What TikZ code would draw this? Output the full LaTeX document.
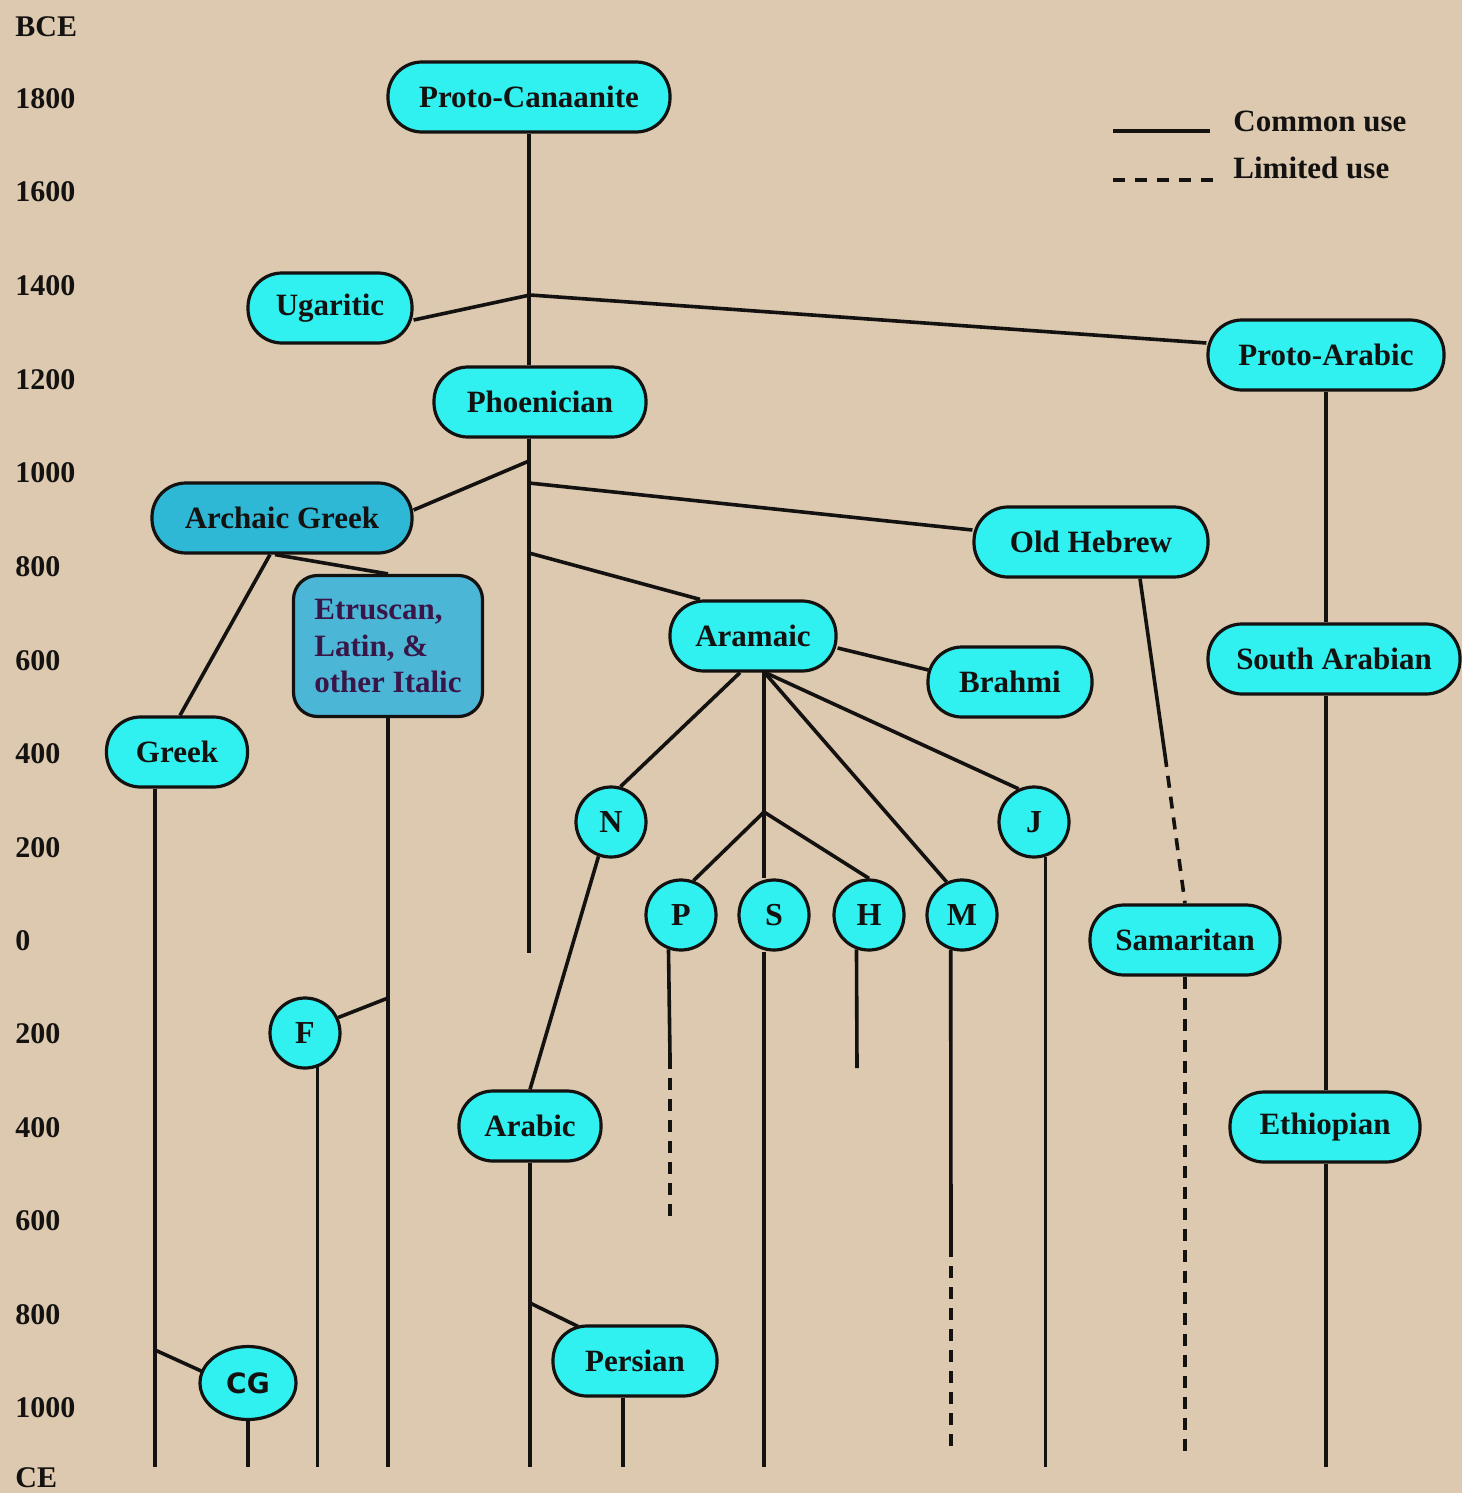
\documentclass[tikz,border=0pt]{standalone}
\usepackage{fontspec}
\setmainfont{Liberation Serif}
\newfontfamily\cgfont{DejaVu Sans}
\usetikzlibrary{calc,shapes.geometric}

\definecolor{paper}{RGB}{220,201,175}
\definecolor{cyanfill}{RGB}{48,240,240}
\definecolor{agfill}{RGB}{46,184,214}
\definecolor{etfill}{RGB}{76,182,214}
\definecolor{etink}{RGB}{58,22,72}
\definecolor{ink}{RGB}{20,18,16}

\tikzset{
  ln/.style={line width=1.8pt, draw=ink},
  limited/.style={ln, dash pattern=on 6pt off 4.5pt},
  script/.style={draw=ink, line width=1.6pt, fill=cyanfill, rounded corners=17pt,
    minimum height=35pt, inner sep=0pt, text=ink,
    font=\fontsize{15.5}{18.3}\selectfont\bfseries},
  letter/.style={circle, draw=ink, line width=1.6pt, fill=cyanfill,
    minimum size=35pt, inner sep=0pt, text=ink,
    font=\fontsize{16}{18}\selectfont\bfseries},
  year/.style={anchor=west, inner sep=0pt, text=ink,
    font=\fontsize{15}{17}\selectfont\bfseries},
  legendtext/.style={anchor=west, inner sep=0pt, text=ink,
    font=\fontsize{15.5}{17}\selectfont\bfseries},
}

\begin{document}
\begin{tikzpicture}[x=0.5pt, y=-0.5pt]
  % page
  \fill[paper] (0,0) rectangle (1462,1493);
  \useasboundingbox (0,0) rectangle (1462,1493);

  % time axis
  \node[year] (tBCE)  at (15,27)   {BCE};
  \node[year] (t1800) at (15,99)   {1800};
  \node[year] (t1600) at (15,192)  {1600};
  \node[year] (t1400) at (15,286)  {1400};
  \node[year] (t1200) at (15,380)  {1200};
  \node[year] (t1000) at (15,473)  {1000};
  \node[year] (t800)  at (15,567)  {800};
  \node[year] (t600)  at (15,661)  {600};
  \node[year] (t400)  at (15,754)  {400};
  \node[year] (t200)  at (15,848)  {200};
  \node[year] (t0)    at (15,941)  {0};
  \node[year] (c200)  at (15,1034) {200};
  \node[year] (c400)  at (15,1128) {400};
  \node[year] (c600)  at (15,1221) {600};
  \node[year] (c800)  at (15,1315) {800};
  \node[year] (c1000) at (15,1408) {1000};
  \node[year] (tCE)   at (15,1478) {CE};

  % legend
  \coordinate (lga) at (1113,131);
  \coordinate (lgb) at (1210,131);
  \coordinate (lgc) at (1113,180);
  \coordinate (lgd) at (1222,180);
  \draw[ln] (lga) -- (lgb);
  \draw[ln, dash pattern=on 6pt off 5pt] (lgc) -- (lgd);
  \node[legendtext] (lgcommon)  at (1233,121) {Common use};
  \node[legendtext] (lglimited) at (1233,168) {Limited use};

  % scripts
  \node[script, minimum width=141pt] (pc) at (529,97)  {Proto-Canaanite};
  \node[script, minimum width=82pt]  (ug) at (330,308) {Ugaritic};
  \node[script, minimum width=118pt] (pa) at (1326,355) {Proto-Arabic};
  \node[script, minimum width=106pt] (ph) at (540,402) {Phoenician};
  \node[script, minimum width=130pt, fill=agfill] (ag) at (282,518) {Archaic Greek};
  \node[script, minimum width=117pt] (oh) at (1091,542) {Old Hebrew};
  \node[script, rounded corners=12pt, minimum width=94.5pt, minimum height=70.5pt,
        fill=etfill, text=etink, align=left] (et) at (388,646)
        {Etruscan,\\Latin, \&\\other Italic};
  \node[script, minimum width=83pt]  (ar) at (753,636)  {Aramaic};
  \node[script, minimum width=82pt]  (br) at (1010,682) {Brahmi};
  \node[script, minimum width=126pt] (sa) at (1334,659) {South Arabian};
  \node[script, minimum width=70.5pt] (gr) at (177,752) {Greek};
  \node[letter] (n) at (611,822)  {N};
  \node[letter] (j) at (1034,822) {J};
  \node[letter] (p) at (681,915)  {P};
  \node[letter] (s) at (774,915)  {S};
  \node[letter] (h) at (869,915)  {H};
  \node[letter] (m) at (962,915)  {M};
  \node[script, minimum width=95pt] (sm) at (1185,940) {Samaritan};
  \node[letter] (f) at (305,1033) {F};
  \node[script, minimum width=71pt] (ab) at (530,1126)  {Arabic};
  \node[script, minimum width=95pt] (eth) at (1325,1127) {Ethiopian};
  \node[script, minimum width=82pt] (pe) at (635,1361)  {Persian};
  \node[ellipse, draw=ink, line width=1.6pt, fill=cyanfill, minimum width=48pt,
        minimum height=36.5pt, inner sep=0pt, text=ink,
        font=\cgfont\bfseries\fontsize{14}{16}\selectfont] (cg) at (248,1383) {CG};

  % branch points and line ends
  \coordinate (bot)  at (0,1467);
  \coordinate (dbot) at (0,1455);
  \coordinate (jUg)  at (530,295);
  \coordinate (jAg)  at (529,461);
  \coordinate (jOh)  at (529,483);
  \coordinate (jAr)  at (529,553);
  \coordinate (trunkend) at (529,953);
  \coordinate (jAram) at (764,672);
  \coordinate (jPH)  at (764,812);
  \coordinate (jF)   at (388,998);
  \coordinate (jCG)  at (155,1350);
  \coordinate (jPe)  at (530,1303);
  \coordinate (ohBreak) at (1165,755);
  \coordinate (mBreak)  at (951,1245);
  \coordinate (pBreak)  at (670,1057);
  \coordinate (pEnd)    at (670,1220);
  \coordinate (hEnd)    at (857,1068);
  \coordinate (grFoot)  at ($(gr.south)+(-22,0)$);
  \coordinate (peFoot)  at ($(pe.south)+(-12,0)$);

  % Proto-Canaanite trunk
  \draw[ln] (pc.south) -- (pc.south |- ph.north);
  \draw[ln] (pc.south |- ph.south) -- (trunkend);
  \draw[ln] ($(ug.east)+(0,12)$) -- (jUg) -- ($(pa.west)+(0,-12)$);

  % Phoenician branches
  \draw[ln] (jAg) -- ($(ag.east)+(0,-8)$);
  \draw[ln] (jOh) -- ($(oh.west)+(0,-12)$);
  \draw[ln] (jAr) -- ($(ar.north)+(-53,0)$);

  % Greek family
  \draw[ln] ($(ag.south)+(-12,0)$) -- ($(gr.north)+(3,0)$);
  \draw[ln] ($(ag.south)+(-7,0)$) -- (et.north);
  \draw[ln] (grFoot) -- (grFoot |- bot);
  \draw[ln] (jCG) -- ($(cg.west)+(5,-11)$);
  \draw[ln] (cg.south) -- (cg.south |- bot);
  \draw[ln] (et.south) -- (et.south |- bot);
  \draw[ln] (jF) -- (f.25);
  \draw[ln] (f.-70) -- (f.-70 |- bot);

  % Aramaic family
  \draw[ln] ($(ar.east)+(0,12)$) -- ($(br.west)+(2,-12)$);
  \draw[ln] ($(ar.south)+(-13,0)$) -- (n.75);
  \draw[ln] (jAram) -- (jAram |- s.north);
  \draw[ln] (jAram) -- (j.115);
  \draw[ln] (jAram) -- (m.115);
  \draw[ln] (jPH) -- (p.70);
  \draw[ln] (jPH) -- (h.north);
  \draw[ln] (p.-110) -- (pBreak);
  \draw[limited] (pBreak) -- (pEnd);
  \draw[ln] (jAram |- s.south) -- (jAram |- bot);
  \draw[ln] (h.-110) -- (hEnd);
  \draw[ln] (m.-108) -- (mBreak);
  \draw[limited] (mBreak) -- (mBreak |- dbot);
  \draw[ln] (j.-72) -- (j.-72 |- bot);

  % Arabic and Persian
  \draw[ln] (n.-110) -- (ab.north);
  \draw[ln] (ab.south) -- (ab.south |- bot);
  \draw[ln] (jPe) -- ($(pe.north)+(-57,2)$);
  \draw[ln] (peFoot) -- (peFoot |- bot);

  % Hebrew line
  \draw[ln] ($(oh.south)+(49,0)$) -- (ohBreak);
  \draw[limited] (ohBreak) -- (sm.north);
  \draw[limited] (sm.south) -- (sm.south |- dbot);

  % Arabian line
  \draw[ln] (pa.south) -- (pa.south |- sa.north);
  \draw[ln] (pa.south |- sa.south) -- (pa.south |- eth.north);
  \draw[ln] (pa.south |- eth.south) -- (pa.south |- bot);
\end{tikzpicture}
\end{document}
